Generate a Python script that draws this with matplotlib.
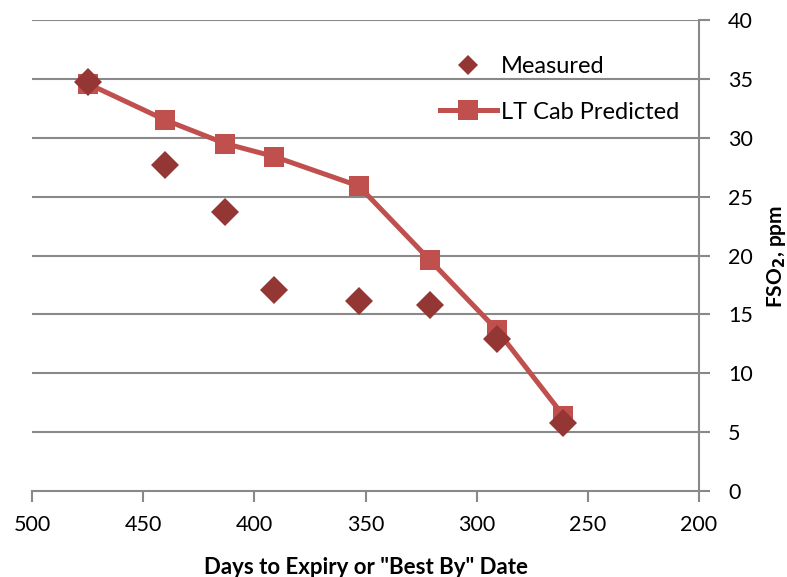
import matplotlib
matplotlib.use("Agg")
import matplotlib.pyplot as plt
from matplotlib.lines import Line2D

days = [475, 440, 413, 391, 353, 321, 291, 261]
measured = [34.7, 27.7, 23.7, 17.1, 16.1, 15.8, 12.9, 5.8]
predicted = [34.6, 31.5, 29.5, 28.4, 25.9, 19.6, 13.7, 6.4]
x_ticks = [500, 450, 400, 350, 300, 250, 200]
y_ticks = [0, 5, 10, 15, 20, 25, 30, 35, 40]

plt.rcParams['font.family'] = ['Lato', 'DejaVu Sans']

fig = plt.figure(figsize=(7.87, 5.77), dpi=100)
ax = fig.add_axes([32/787, 1-491/577, (699-32)/787, (491-20)/577])

grid_c = '#898989'
pred_c = '#C0504D'
meas_c = '#943634'

for y in y_ticks[1:]:
    ax.axhline(y, color=grid_c, lw=1.5, zorder=0)

ax.plot(days, predicted, color=pred_c, lw=3.6, marker='s', markersize=14,
        markeredgewidth=0, zorder=2)
ax.plot(days, measured, ls='none', color=meas_c, marker='D', markersize=14,
        markeredgewidth=0, zorder=3)

ax.set_xlim(500, 200)
ax.set_ylim(0, 40)
ax.set_xticks(x_ticks)
ax.set_yticks(y_ticks)
ax.yaxis.tick_right()
for s in ['left', 'top']:
    ax.spines[s].set_visible(False)
for s in ['right', 'bottom']:
    ax.spines[s].set_color(grid_c)
    ax.spines[s].set_linewidth(1.5)
ax.tick_params(axis='both', direction='out', length=8, width=1.5, color=grid_c,
               labelsize=15.5)
ax.tick_params(axis='x', pad=9)
ax.tick_params(axis='y', pad=13)

ax.set_xlabel('Days to Expiry or "Best By" Date', fontsize=16, fontweight='bold', labelpad=16)
fig.text(776/787, 1-256/577, 'FSO$_\\mathbf{2}$, ppm', rotation=90, fontsize=15,
         fontweight='bold', ha='center', va='center')

handles = [
    Line2D([], [], ls='none', marker='D', color=meas_c, markersize=10, markeredgewidth=0),
    Line2D([], [], color=pred_c, lw=3.6, marker='s', markersize=14, markeredgewidth=0),
]
fig.legend(handles, ['Measured', 'LT Cab Predicted'], loc='upper left',
           bbox_to_anchor=(421/787, 1-37/577), frameon=False, fontsize=17,
           handlelength=2.4, handletextpad=0.2, labelspacing=1.05, borderpad=0.3)

fig.savefig('out.png', dpi=100)
